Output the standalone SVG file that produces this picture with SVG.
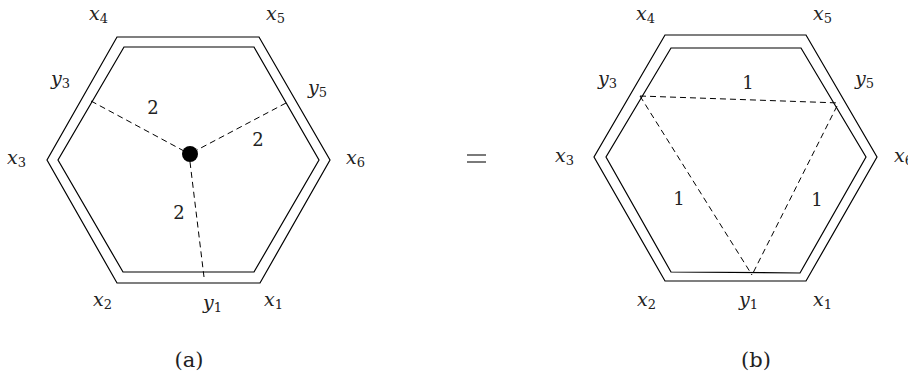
<svg xmlns="http://www.w3.org/2000/svg" width="908" height="378" viewBox="0 0 908 378">
<style>
.hex{fill:none;stroke:#000;stroke-width:1.2;stroke-linejoin:miter}
.dash{fill:none;stroke:#000;stroke-width:1;stroke-dasharray:6 4}
.lab{font-family:'DejaVu Serif','Liberation Serif',serif;font-style:italic;font-size:19px;fill:#222}
.sub{font-size:13px;font-style:normal}
.num{font-family:'DejaVu Serif','Liberation Serif',serif;font-size:18px;fill:#222}
.cap{font-family:'DejaVu Serif','Liberation Serif',serif;font-size:21px;fill:#222}
</style>
<rect width="908" height="378" fill="#fff"/>
<g id="hexA">
<polygon class="hex" points="117,37 259,37 330,160 260,283 117,283 47,160"/>
<polygon class="hex" points="124,47 254,47 319,160 254,272 123,272 58,160"/>
</g>
<g id="centerA">
<circle cx="190" cy="154" r="8" fill="#000"/>
</g>
<g id="connectorsA">
<line class="dash" x1="91" y1="101" x2="184" y2="151"/>
<line class="dash" x1="286" y1="103" x2="197" y2="150"/>
<line class="dash" x1="190" y1="162" x2="204" y2="277"/>
</g>
<g id="labelsA">
<text class="num" x="153" y="114" text-anchor="middle">2</text>
<text class="num" x="258" y="146" text-anchor="middle">2</text>
<text class="num" x="179" y="219" text-anchor="middle">2</text>
<text class="lab" x="89" y="20">x<tspan class="sub" dy="3">4</tspan></text>
<text class="lab" x="266" y="20">x<tspan class="sub" dy="3">5</tspan></text>
<text class="lab" x="51" y="85">y<tspan class="sub" dy="3">3</tspan></text>
<text class="lab" x="308" y="94">y<tspan class="sub" dy="3">5</tspan></text>
<text class="lab" x="7" y="164">x<tspan class="sub" dy="3">3</tspan></text>
<text class="lab" x="346" y="164">x<tspan class="sub" dy="3">6</tspan></text>
<text class="lab" x="93" y="306">x<tspan class="sub" dy="3">2</tspan></text>
<text class="lab" x="203" y="309">y<tspan class="sub" dy="3">1</tspan></text>
<text class="lab" x="264" y="306">x<tspan class="sub" dy="3">1</tspan></text>
<text class="cap" x="189" y="367" text-anchor="middle">(a)</text>
</g>
<g id="equals">
<line x1="467" y1="155" x2="486" y2="155" stroke="#222" stroke-width="1.2"/>
<line x1="467" y1="162" x2="486" y2="162" stroke="#222" stroke-width="1.2"/>
</g>
<g id="hexB">
<polygon class="hex" points="665,35 806,35 877,157 806,281 665,281 594,157"/>
<polygon class="hex" points="671,48 801,48 866,157 800,273 671,272 606,157"/>
</g>
<g id="connectorsB">
<line class="dash" x1="640" y1="96" x2="840" y2="103"/>
<line class="dash" x1="640" y1="96" x2="752" y2="275"/>
<line class="dash" x1="837" y1="106" x2="752" y2="275"/>
</g>
<g id="labelsB">
<text class="num" x="748" y="89" text-anchor="middle">1</text>
<text class="num" x="679" y="205" text-anchor="middle">1</text>
<text class="num" x="817" y="206" text-anchor="middle">1</text>
<text class="lab" x="636" y="20">x<tspan class="sub" dy="3">4</tspan></text>
<text class="lab" x="813" y="20">x<tspan class="sub" dy="3">5</tspan></text>
<text class="lab" x="598" y="85">y<tspan class="sub" dy="3">3</tspan></text>
<text class="lab" x="855" y="85">y<tspan class="sub" dy="3">5</tspan></text>
<text class="lab" x="555" y="162">x<tspan class="sub" dy="3">3</tspan></text>
<text class="lab" x="894" y="162">x<tspan class="sub" dy="3">6</tspan></text>
<text class="lab" x="637" y="306">x<tspan class="sub" dy="3">2</tspan></text>
<text class="lab" x="739" y="306">y<tspan class="sub" dy="3">1</tspan></text>
<text class="lab" x="813" y="306">x<tspan class="sub" dy="3">1</tspan></text>
<text class="cap" x="756" y="367" text-anchor="middle">(b)</text>
</g>
</svg>
